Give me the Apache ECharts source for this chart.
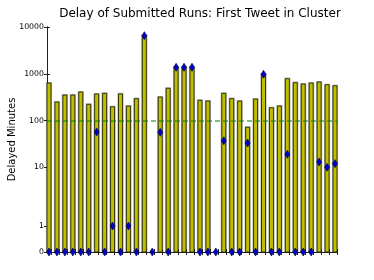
<!DOCTYPE html>
<html><head><meta charset="utf-8">
<script src="https://cdn.jsdelivr.net/npm/echarts@6/dist/echarts.min.js"></script>
<style>html,body{margin:0;padding:0;background:#fff}#c{width:374px;height:280px}</style>
</head><body><div id="c"></div>
<script>
// ---- data ----
const runIndex = [0,1,2,3,4,5,6,7,8,9,10,11,12,13,14,15,16,17,18,19,20,21,22,23,24,25,26,27,28,29,30,31,32,33,34,35,36];
const delayMinutes = [634,249,351,351,407,222,369,381,197,370,204,293,6530,0,318,489,1376,1376,1376,270,261,0,381,293,261,72,288,974,188,204,784,644,604,634,667,583,555];
const firstTweetMinutes = [0,0,0,0,0,0,57,0,1,0,1,0,6530,0,56,0,1376,1376,1376,0,0,0,37,0,0,33,0,974,0,0,19,0,0,0,13,10,12];
const yTickValues = [0,1,10,100,1000,10000];
const yTickLabels = ['0','1','10','100','1000','10000'];
const thresholdMinutes = 100;

// ---- symlog scale (linthresh 2, linscale 1, base 10) ----
const LINTHRESH = 2, LINSCALE_ADJ = 1/(1-1/10);
function symlog(v){ return v <= LINTHRESH ? v*LINSCALE_ADJ : LINTHRESH*(LINSCALE_ADJ + Math.log10(v/LINTHRESH)); }

const BAR_W = 0.5;
const X_MAX = runIndex[runIndex.length-1] + BAR_W;
const xTicks = runIndex.map(i => i + BAR_W);
const yTicksT = yTickValues.map(symlog);
const Y_MAX = symlog(yTickValues[yTickValues.length-1]);
const FONT = 'DejaVu Sans';

function labelFor(v){
  let best = 0, d = Infinity;
  yTicksT.forEach((t,k)=>{ if (Math.abs(t-v) < d){ d = Math.abs(t-v); best = k; } });
  return yTickLabels[best];
}

const axisLine = {show:true, lineStyle:{color:'#222', width:1}};
const chart = echarts.init(document.getElementById('c'), null, {renderer:'canvas'});
chart.setOption({
  animation:false,
  backgroundColor:'#fff',
  title:{text:'Delay of Submitted Runs: First Tweet in Cluster', left:195, textAlign:'center', top:3,
    textStyle:{fontFamily:FONT, fontSize:12, fontWeight:'normal', color:'#000'}},
  grid:{left:47, right:37, top:27, bottom:28, containLabel:false, outerBoundsMode:'none'},
  xAxis:[
    {type:'value', min:0, max:X_MAX, position:'bottom', axisLine,
     axisTick:{show:true, inside:true, length:3, customValues:xTicks, lineStyle:{color:'#222'}},
     axisLabel:{show:false}, splitLine:{show:false}},
    {type:'value', min:0, max:X_MAX, position:'top', axisLine,
     axisTick:{show:true, inside:true, length:3, customValues:xTicks, lineStyle:{color:'#222'}},
     axisLabel:{show:false}, splitLine:{show:false}}
  ],
  yAxis:[
    {type:'value', min:0, max:Y_MAX, position:'left', axisLine,
     name:'Delayed Minutes', nameLocation:'middle', nameRotate:90, nameGap:30, nameMoveOverlap:false,
     nameTextStyle:{fontFamily:FONT, fontSize:10, color:'#000'},
     axisTick:{show:true, inside:true, length:3, customValues:yTicksT, lineStyle:{color:'#222'}},
     axisLabel:{show:true, customValues:yTicksT, formatter:labelFor, margin:3,
       fontFamily:FONT, fontSize:7.8, color:'#000'},
     splitLine:{show:false}},
    {type:'value', min:0, max:Y_MAX, position:'right', axisLine,
     axisTick:{show:true, inside:true, length:3, customValues:yTicksT, lineStyle:{color:'#222'}},
     axisLabel:{show:false}, splitLine:{show:false}}
  ],
  series:[
    {type:'custom', xAxisIndex:0, yAxisIndex:0, z:2,
     data: delayMinutes.map((v,i)=>[runIndex[i], symlog(v)]),
     renderItem(params, api){
       const x = api.value(0), y = api.value(1);
       const p0 = api.coord([x, y]);
       const p1 = api.coord([x + BAR_W, 0]);
       return {type:'group', children:[
         {type:'rect', shape:{x:p0[0], y:p0[1], width:p1[0]-p0[0], height:p1[1]-p0[1]},
          style:{fill:'none', stroke:'rgba(0,0,0,0.3)', lineWidth:2.2}},
         {type:'rect', shape:{x:p0[0], y:p0[1], width:p1[0]-p0[0], height:p1[1]-p0[1]},
          style:{fill:'#bfbf00', stroke:'#2a2a00', lineWidth:0.9}}
       ]};
     },
     markLine:{silent:true, symbol:'none', label:{show:false},
       lineStyle:{color:'rgba(0,128,0,0.5)', width:2, type:[5,3]},
       data:[{yAxis:symlog(thresholdMinutes)}]}
    },
    {type:'scatter', xAxisIndex:0, yAxisIndex:0, z:5, clip:false,
     data: firstTweetMinutes.map((v,i)=>[runIndex[i] + BAR_W/2, symlog(v)]),
     symbol:'diamond', symbolSize:[5,8],
     itemStyle:{color:'#0000c8', borderColor:'#000040', borderWidth:0.6, opacity:1}}
  ]
});
</script>
</body></html>
